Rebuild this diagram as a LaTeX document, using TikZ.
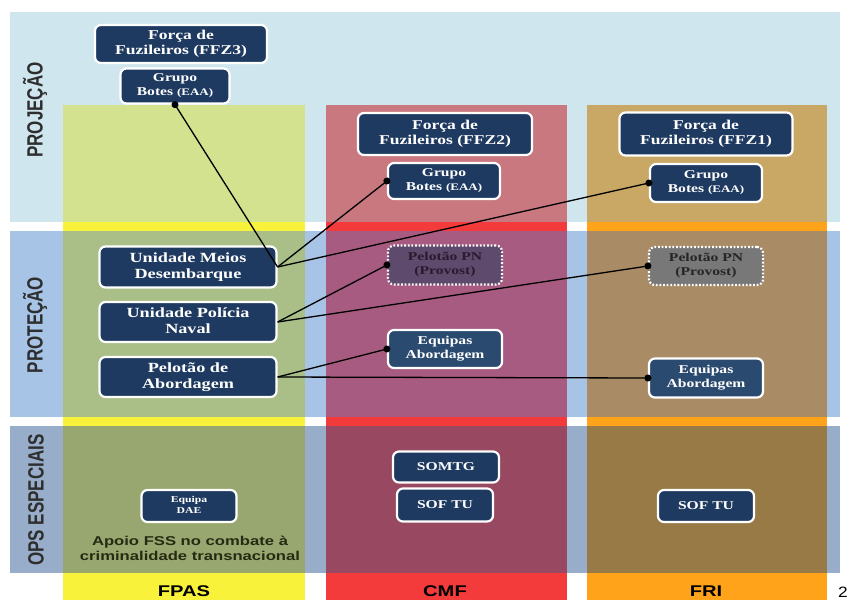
\documentclass[tikz,border=0pt]{standalone}
\usepackage{fontspec}
\usepackage{graphicx}
\setmainfont{Liberation Serif}
\newfontfamily\lsans{Liberation Sans}
\usetikzlibrary{arrows.meta}
\definecolor{bandtop}{HTML}{CFE6EE}
\definecolor{bandprot}{HTML}{A7C3E6}
\definecolor{bandops}{HTML}{98ADC9}
\definecolor{fpasA}{HTML}{D3E28F}
\definecolor{fpasB}{HTML}{A9BF87}
\definecolor{fpasC}{HTML}{98A76F}
\definecolor{cmfA}{HTML}{C97880}
\definecolor{cmfB}{HTML}{A85B80}
\definecolor{cmfC}{HTML}{984860}
\definecolor{friA}{HTML}{C9A866}
\definecolor{friB}{HTML}{A98C66}
\definecolor{friC}{HTML}{977A45}
\definecolor{barY}{HTML}{F8F23A}
\definecolor{barR}{HTML}{F43B3B}
\definecolor{barO}{HTML}{FFA41A}
\definecolor{navy}{HTML}{1E3A60}
\definecolor{navyB}{HTML}{2A4A6F}
\definecolor{pnM}{HTML}{5E4A6C}
\definecolor{pnR}{HTML}{787878}
\definecolor{pntext}{HTML}{2A1A30}
\definecolor{labgrey}{HTML}{2E2E2E}
\definecolor{apoio}{HTML}{262A12}
\newcommand\sx[1]{\scalebox{1.3}[1]{\begin{tabular}{@{}c@{}}#1\end{tabular}}}
\newcommand\hx[1]{\scalebox{1.3}[1]{#1}}
\newcommand\vx[1]{\scalebox{1}[1.3]{#1}}
\begin{document}
\begin{tikzpicture}[x=1pt,y=-1pt,
  bx/.style={draw=white, line width=2.2pt, fill=navy, rounded corners=6pt,
    text=white, inner sep=0pt, align=center},
  fbig/.style={font=\bfseries\fontsize{13.5}{15.5}\selectfont},
  fmid/.style={font=\bfseries\fontsize{14}{16}\selectfont},
  fsm/.style={font=\bfseries\fontsize{12}{14}\selectfont},
  ftiny/.style={font=\bfseries\fontsize{9}{10.5}\selectfont},
  pnbox/.style={bx, draw=white, dash pattern=on 1.8pt off 1.8pt, text=pntext},
  sidelab/.style={rotate=90, text=labgrey, font=\lsans\bfseries\fontsize{17}{20}\selectfont},
  collab/.style={anchor=base, text=black, inner sep=0pt, font=\lsans\bfseries\fontsize{15.5}{17}\selectfont},
  conn/.style={draw=black, line width=1.3pt},
  dotend/.style={-{Circle[length=7pt]}, shorten >=-3.5pt},
  dotstart/.style={{Circle[length=7pt]}-, shorten <=-3.5pt}]
\useasboundingbox (0,0) rectangle (850,600);
\fill[white] (0,0) rectangle (850,600);
% horizontal bands
\fill[bandtop] (10,12) rectangle (840,222);
\fill[bandprot] (10,231) rectangle (840,417);
\fill[bandops] (10,426) rectangle (840,573);
% FPAS column
\fill[fpasA] (63,105) rectangle (305,222);
\fill[fpasB] (63,231) rectangle (305,417);
\fill[fpasC] (63,426) rectangle (305,573);
\fill[barY] (63,222) rectangle (305,231);
\fill[barY] (63,417) rectangle (305,426);
\fill[barY] (63,573) rectangle (305,600);
% CMF column
\fill[cmfA] (326,105) rectangle (567,222);
\fill[cmfB] (326,231) rectangle (567,417);
\fill[cmfC] (326,426) rectangle (567,573);
\fill[barR] (326,222) rectangle (567,231);
\fill[barR] (326,417) rectangle (567,426);
\fill[barR] (326,573) rectangle (567,600);
% FRI column
\fill[friA] (587,105) rectangle (827,222);
\fill[friB] (587,231) rectangle (827,417);
\fill[friC] (587,426) rectangle (827,573);
\fill[barO] (587,222) rectangle (827,231);
\fill[barO] (587,417) rectangle (827,426);
\fill[barO] (587,573) rectangle (827,600);
% side labels
\node[sidelab] (lproj) at (35,110) {\vx{PROJEÇÃO}};
\node[sidelab] (lprot) at (35,325) {\vx{PROTEÇÃO}};
\node[sidelab] (lops) at (36,500) {\vx{OPS ESPECIAIS}};
% column labels
\node[collab] (lfpas) at (184,596) {\hx{FPAS}};
\node[collab] (lcmf) at (445,596) {\hx{CMF}};
\node[collab] (lfri) at (706,596) {\hx{FRI}};
\node[anchor=base west, inner sep=0pt, font=\lsans\fontsize{15}{17}\selectfont] (pgnum) at (838,597) {\scalebox{1.15}[1]{2}};
% boxes: projection
\node[bx, fbig, minimum width=172pt, minimum height=38pt] (ffz3) at (181,44) {\sx{Força de\\Fuzileiros (FFZ3)}};
\node[bx, fsm, minimum width=109pt, minimum height=35pt] (gbl) at (175,86) {\sx{Grupo\\Botes {\fontsize{10}{12}\selectfont(EAA)}}};
\node[bx, fbig, minimum width=174pt, minimum height=42pt] (ffz2) at (445,134) {\sx{Força de\\Fuzileiros (FFZ2)}};
\node[bx, fsm, minimum width=112pt, minimum height=36pt] (gbm) at (444,181) {\sx{Grupo\\Botes {\fontsize{10}{12}\selectfont(EAA)}}};
\node[bx, fbig, minimum width=173pt, minimum height=43pt] (ffz1) at (706,134) {\sx{Força de\\Fuzileiros (FFZ1)}};
\node[bx, fsm, minimum width=112pt, minimum height=38pt] (gbr) at (706,183) {\sx{Grupo\\Botes {\fontsize{10}{12}\selectfont(EAA)}}};
% boxes: protection
\node[bx, fmid, minimum width=177pt, minimum height=41pt] (umd) at (188,267) {\sx{Unidade Meios\\Desembarque}};
\node[bx, fmid, minimum width=177pt, minimum height=40pt] (upn) at (188,322) {\sx{Unidade Polícia\\Naval}};
\node[bx, fmid, minimum width=177pt, minimum height=40pt] (pda) at (188,377) {\sx{Pelotão de\\Abordagem}};
\node[pnbox, fsm, fill=pnM, minimum width=114pt, minimum height=39pt] (pnm) at (445,265) {\sx{Pelotão PN\\(Provost)}};
\node[pnbox, fsm, fill=pnR, text=black!85, minimum width=114pt, minimum height=38pt] (pnr) at (706,266) {\sx{Pelotão PN\\(Provost)}};
\node[bx, fsm, fill=navyB, minimum width=114pt, minimum height=38pt] (eam) at (445,349) {\sx{Equipas\\Abordagem}};
\node[bx, fsm, fill=navyB, minimum width=114pt, minimum height=39pt] (ear) at (706,378) {\sx{Equipas\\Abordagem}};
% boxes: ops especiais
\node[bx, ftiny, minimum width=95pt, minimum height=32pt] (dae) at (189,506) {\sx{Equipa\\DAE}};
\node[bx, fsm, minimum width=106pt, minimum height=31pt] (somtg) at (446,467) {\hx{SOMTG}};
\node[bx, fsm, minimum width=96pt, minimum height=33pt] (sofm) at (445,505) {\hx{SOF TU}};
\node[bx, fsm, minimum width=96pt, minimum height=32pt] (sofr) at (706,506) {\hx{SOF TU}};
\node[text=apoio, inner sep=0pt, font=\lsans\bfseries\fontsize{12.8}{14.5}\selectfont] (apoio) at (190,550) {\sx{Apoio FSS no combate à\\criminalidade transnacional}};
% connectors
\draw[conn, dotstart] (gbl.south) -- (umd.east);
\draw[conn, dotend] (umd.east) -- (gbm.west);
\draw[conn, dotend] (umd.east) -- (gbr.west);
\draw[conn, dotend] (upn.east) -- (pnm.west);
\draw[conn, dotend] (upn.east) -- (pnr.west);
\draw[conn, dotend] (pda.east) -- (eam.west);
\draw[conn, dotend] (pda.east) -- (ear.west);
\end{tikzpicture}
\end{document}
